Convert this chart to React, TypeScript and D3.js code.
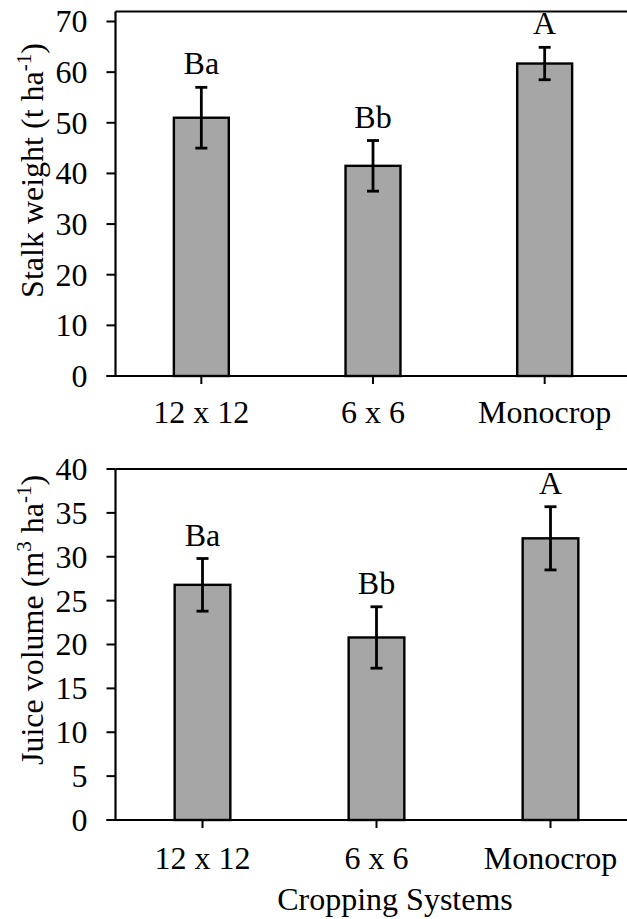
import React from "react";
import * as d3 from "d3";

const categories = ["12 x 12", "6 x 6", "Monocrop"];
const stalkWeight = [51.0, 41.5, 61.7];
const stalkErr = [6.0, 5.0, 3.2];
const stalkLetters = ["Ba", "Bb", "A"];
const juiceVolume = [26.8, 20.8, 32.1];
const juiceErr = [3.0, 3.5, 3.6];
const juiceLetters = ["Ba", "Bb", "A"];
const stalkTicks = [0, 10, 20, 30, 40, 50, 60, 70];
const juiceTicks = [0, 5, 10, 15, 20, 25, 30, 35, 40];

const FONT = "Liberation Serif";
const FS = 32;
const SUP = 21;
const ts: React.CSSProperties = { fontFamily: FONT, fontSize: FS };

type PanelProps = {
  values: number[];
  errs: number[];
  letters: string[];
  ticks: number[];
  yMax: number;
  yTop: number;
  yBottom: number;
  boxTop: number;
  xLeft: number;
  xRight: number;
  xLabelBaseline: number;
  titleCenter: number;
  title: React.ReactNode;
};

function Panel(p: PanelProps) {
  const x = d3
    .scaleBand<string>()
    .domain(categories)
    .range([p.xLeft, p.xRight])
    .paddingInner(0.68)
    .paddingOuter(0.34);
  const y = d3.scaleLinear().domain([0, p.yMax]).range([p.yBottom, p.yTop]);
  const bw = x.bandwidth();
  const cap = 6;
  return (
    <g>
      <line x1={p.xLeft} x2={627} y1={p.boxTop} y2={p.boxTop} stroke="#000" strokeWidth={2.2} />
      {categories.map((c, i) => (
        <rect
          key={c}
          x={x(c)!}
          y={y(p.values[i])}
          width={bw}
          height={y(0) - y(p.values[i])}
          fill="#a6a6a6"
          stroke="#000"
          strokeWidth={2.4}
        />
      ))}
      {categories.map((c, i) => {
        const cx = x(c)! + bw / 2;
        const hi = y(p.values[i] + p.errs[i]);
        const lo = y(p.values[i] - p.errs[i]);
        return (
          <g key={c} stroke="#000" strokeWidth={2.8}>
            <line x1={cx} x2={cx} y1={hi} y2={lo} />
            <line x1={cx - cap} x2={cx + cap} y1={hi} y2={hi} />
            <line x1={cx - cap} x2={cx + cap} y1={lo} y2={lo} />
          </g>
        );
      })}
      {categories.map((c, i) => (
        <text key={c} x={x(c)! + bw / 2} y={y(p.values[i] + p.errs[i]) - 13} textAnchor="middle" style={ts}>
          {p.letters[i]}
        </text>
      ))}
      <line x1={p.xLeft} x2={p.xLeft} y1={p.boxTop} y2={y(0)} stroke="#000" strokeWidth={2.2} />
      <line x1={p.xLeft - 9} x2={627} y1={y(0)} y2={y(0)} stroke="#000" strokeWidth={2.2} />
      {p.ticks.map((t) => (
        <g key={t}>
          <line x1={p.xLeft - 9} x2={p.xLeft} y1={y(t)} y2={y(t)} stroke="#000" strokeWidth={2} />
          <text x={p.xLeft - 28} y={y(t)} dy="0.34em" textAnchor="end" style={ts}>
            {t}
          </text>
        </g>
      ))}
      {categories.map((c) => (
        <g key={c}>
          <line x1={x(c)! + bw / 2} x2={x(c)! + bw / 2} y1={y(0)} y2={y(0) + 8} stroke="#000" strokeWidth={2} />
          <text x={x(c)! + bw / 2} y={p.xLabelBaseline} textAnchor="middle" style={ts}>
            {c}
          </text>
        </g>
      ))}
      <text transform={`translate(43,${p.titleCenter}) rotate(-90)`} textAnchor="middle" style={ts}>
        {p.title}
      </text>
    </g>
  );
}

export default function App() {
  return (
    <svg width={627} height={919} style={{ position: "absolute", left: 0, top: 0, background: "#fff" }}>
      <rect x={0} y={0} width={627} height={919} fill="#fff" />
      <Panel
        values={stalkWeight}
        errs={stalkErr}
        letters={stalkLetters}
        ticks={stalkTicks}
        yMax={70}
        yTop={21.5}
        yBottom={376}
        boxTop={11.5}
        xLeft={115.5}
        xRight={630.5}
        xLabelBaseline={423}
        titleCenter={170.5}
        title={
          <>
            Stalk weight (t ha
            <tspan style={{ fontSize: SUP }} dy={-12}>-1</tspan>
            <tspan dy={12}>)</tspan>
          </>
        }
      />
      <Panel
        values={juiceVolume}
        errs={juiceErr}
        letters={juiceLetters}
        ticks={juiceTicks}
        yMax={40}
        yTop={469}
        yBottom={820}
        boxTop={469}
        xLeft={115.5}
        xRight={637.5}
        xLabelBaseline={869}
        titleCenter={620}
        title={
          <>
            Juice volume (m
            <tspan style={{ fontSize: SUP }} dy={-12}>3</tspan>
            <tspan dy={12}> ha</tspan>
            <tspan style={{ fontSize: SUP }} dy={-12}>-1</tspan>
            <tspan dy={12}>)</tspan>
          </>
        }
      />
      <text x={395} y={910} textAnchor="middle" style={ts}>
        Cropping Systems
      </text>
    </svg>
  );
}
